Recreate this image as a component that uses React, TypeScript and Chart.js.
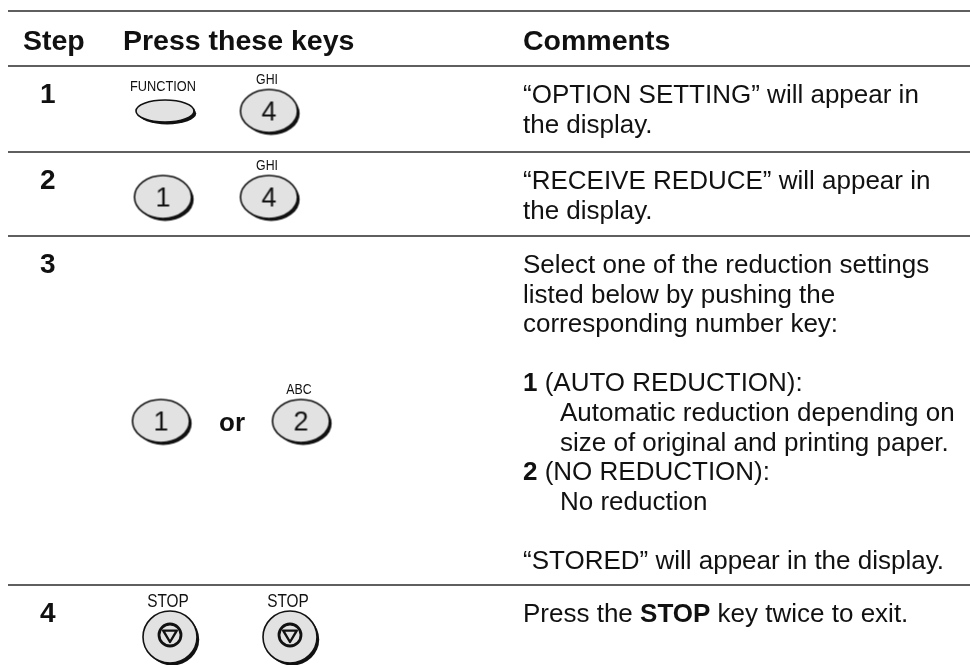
import React, { useEffect, useRef } from 'react';
import { Chart, registerables } from 'chart.js';

Chart.register(...registerables);

// ---------- content ----------
const HEADERS = ['Step', 'Press these keys', 'Comments'];
const STEPS = ['1', '2', '3', '4'];
const COMMENTS: string[][] = [
  ['“OPTION SETTING” will appear in', 'the display.'],
  ['“RECEIVE REDUCE” will appear in', 'the display.'],
  [
    'Select one of the reduction settings',
    'listed below by pushing the',
    'corresponding number key:',
    '',
    '**1** (AUTO REDUCTION):',
    '>Automatic reduction depending on',
    '>size of original and printing paper.',
    '**2** (NO REDUCTION):',
    '>No reduction',
    '',
    '“STORED” will appear in the display.',
  ],
  ['Press the **STOP** key twice to exit.'],
];
const KEY_KINDS: string[][] = [
  ['oval', 'number'],
  ['number', 'number'],
  ['number', 'number'],
  ['stop', 'stop'],
];
const KEY_FACES: string[][] = [
  ['', '4'],
  ['1', '4'],
  ['1', '2'],
  ['', ''],
];
const KEY_LABELS: string[][] = [
  ['FUNCTION', 'GHI'],
  ['', 'GHI'],
  ['', 'ABC'],
  ['STOP', 'STOP'],
];
const JOINERS = ['', '', 'or', ''];

// ---------- layout ----------
const W = 970;
const H = 665;
const RULE_Y = [11, 66, 152, 236, 585];
const RULE_X0 = 8;
const HEADER_X = [23, 123, 523];
const HEADER_BASE = 50;
const STEP_X = 40;
const COMMENT_X = 523;
const INDENT_X = 560;
const FIRST_BASE = 37;
const LINE_H = 29.6;
const KEY_X: number[][] = [
  [165, 269],
  [163, 269],
  [161, 301],
  [170, 290],
];
const KEY_Y = [111, 197, 421, 637];
const JOINER_X = 232;
const KEY_SIZE: Record<string, [number, number]> = {
  oval: [29, 11],
  number: [28.5, 21.5],
  stop: [27, 26],
};
const LABEL_SIZE: Record<string, number> = { oval: 14.5, number: 14, stop: 17.5 };
const LABEL_GAP: Record<string, number> = { oval: 14, number: 11, stop: 10.5 };

const FONT = '"Liberation Sans", Arial, Helvetica, sans-serif';
const INK = '#111111';
const RULE = '#2a2a2a';
const KEY_FILL = '#e2e2e2';

function makeKeyImage(kind: string, face: string): HTMLCanvasElement {
  const [rx, ry] = KEY_SIZE[kind];
  const pad = 5;
  const c = document.createElement('canvas');
  c.width = Math.round(2 * rx + 2 * pad);
  c.height = Math.round(2 * ry + 2 * pad);
  const g = c.getContext('2d') as CanvasRenderingContext2D;
  const cx = c.width / 2;
  const cy = c.height / 2;
  // shadow crescent
  g.fillStyle = INK;
  g.beginPath();
  g.ellipse(cx + 2.2, cy + 2.4, rx, ry, 0, 0, Math.PI * 2);
  g.fill();
  // key body
  g.beginPath();
  g.ellipse(cx, cy, rx, ry, 0, 0, Math.PI * 2);
  g.fillStyle = KEY_FILL;
  g.fill();
  g.lineWidth = 1.6;
  g.strokeStyle = INK;
  g.stroke();
  if (kind === 'number') {
    g.font = `27px ${FONT}`;
    g.textAlign = 'center';
    g.textBaseline = 'alphabetic';
    g.fillStyle = INK;
    g.fillText(face, cx, cy + 9.8);
  }
  if (kind === 'stop') {
    const icx = cx;
    const icy = cy - 2;
    g.beginPath();
    g.arc(icx, icy, 11, 0, Math.PI * 2);
    g.lineWidth = 2.8;
    g.strokeStyle = INK;
    g.stroke();
    g.beginPath();
    g.moveTo(icx - 6.8, icy - 4.4);
    g.lineTo(icx + 6.8, icy - 4.4);
    g.lineTo(icx, icy + 7);
    g.closePath();
    g.lineWidth = 2.4;
    g.lineJoin = 'round';
    g.stroke();
  }
  return c;
}

function drawRich(ctx: CanvasRenderingContext2D, text: string, x: number, y: number, size: number) {
  const parts = text.split('**');
  let cx = x;
  parts.forEach((p, i) => {
    if (!p) return;
    ctx.font = `${i % 2 === 1 ? 'bold ' : ''}${size}px ${FONT}`;
    ctx.fillText(p, cx, y);
    cx += ctx.measureText(p).width;
  });
}

export default function App() {
  const ref = useRef<HTMLCanvasElement | null>(null);

  useEffect(() => {
    const canvas = ref.current;
    if (!canvas) return;

    const ruleSets = RULE_Y.map((y) => ({
      type: 'line' as const,
      data: [
        { x: RULE_X0, y },
        { x: W, y },
      ],
      showLine: true,
      borderColor: RULE,
      borderWidth: 1.6,
      pointRadius: 0,
      fill: false,
      clip: false as any,
    }));

    const keyPoints: { x: number; y: number }[] = [];
    const keyImages: HTMLCanvasElement[] = [];
    KEY_KINDS.forEach((row, r) => {
      row.forEach((kind, k) => {
        keyPoints.push({ x: KEY_X[r][k], y: KEY_Y[r] });
        keyImages.push(makeKeyImage(kind, KEY_FACES[r][k]));
      });
    });

    const textPlugin = {
      id: 'tableText',
      afterDatasetsDraw(chart: any) {
        const ctx: CanvasRenderingContext2D = chart.ctx;
        const sx = chart.scales.x;
        const sy = chart.scales.y;
        const px = (v: number) => sx.getPixelForValue(v);
        const py = (v: number) => sy.getPixelForValue(v);
        ctx.save();
        ctx.fillStyle = INK;
        ctx.textBaseline = 'alphabetic';
        ctx.textAlign = 'left';
        // headers
        ctx.font = `bold 28.5px ${FONT}`;
        HEADERS.forEach((h, i) => ctx.fillText(h, px(HEADER_X[i]), py(HEADER_BASE)));
        STEPS.forEach((s, r) => {
          const base = RULE_Y[r + 1] + FIRST_BASE;
          ctx.textAlign = 'left';
          ctx.font = `bold 28px ${FONT}`;
          ctx.fillText(s, px(STEP_X), py(base));
          COMMENTS[r].forEach((line, li) => {
            if (!line) return;
            let x = COMMENT_X;
            let t = line;
            if (t.startsWith('>')) {
              x = INDENT_X;
              t = t.slice(1);
            }
            drawRich(ctx, t, px(x), py(base + li * LINE_H), 26);
          });
          // key labels (narrow lettering)
          KEY_LABELS[r].forEach((lab, k) => {
            if (!lab) return;
            const kind = KEY_KINDS[r][k];
            const [, ry] = KEY_SIZE[kind];
            const size = LABEL_SIZE[kind];
            const cy = KEY_Y[r] - ry - LABEL_GAP[kind];
            ctx.save();
            ctx.translate(px(KEY_X[r][k] - 2), py(cy + size * 0.36));
            ctx.scale(0.88, 1);
            ctx.textAlign = 'center';
            ctx.font = `${size}px ${FONT}`;
            ctx.fillText(lab, 0, 0);
            ctx.restore();
          });
          if (JOINERS[r]) {
            ctx.textAlign = 'center';
            ctx.font = `bold 26px ${FONT}`;
            ctx.fillText(JOINERS[r], px(JOINER_X), py(KEY_Y[r] + 10));
          }
        });
        ctx.restore();
      },
    };

    const chart = new Chart(canvas, {
      type: 'scatter',
      data: {
        datasets: [
          ...ruleSets,
          {
            type: 'scatter' as const,
            data: keyPoints,
            pointStyle: keyImages as any,
            pointRadius: 3,
            pointHoverRadius: 3,
            clip: false as any,
          },
        ] as any,
      },
      options: {
        animation: false,
        responsive: false,
        devicePixelRatio: 1,
        events: [],
        layout: { padding: 0, autoPadding: false },
        plugins: { legend: { display: false }, tooltip: { enabled: false } },
        scales: {
          x: { type: 'linear', min: 0, max: W, display: false },
          y: { type: 'linear', min: 0, max: H, reverse: true, display: false },
        },
      },
      plugins: [textPlugin],
    });

    return () => chart.destroy();
  }, []);

  return (
    <div style={{ position: 'fixed', left: 0, top: 0, width: W, height: H, background: '#fff' }}>
      <canvas ref={ref} width={W} height={H} style={{ display: 'block', width: W, height: H }} />
    </div>
  );
}
